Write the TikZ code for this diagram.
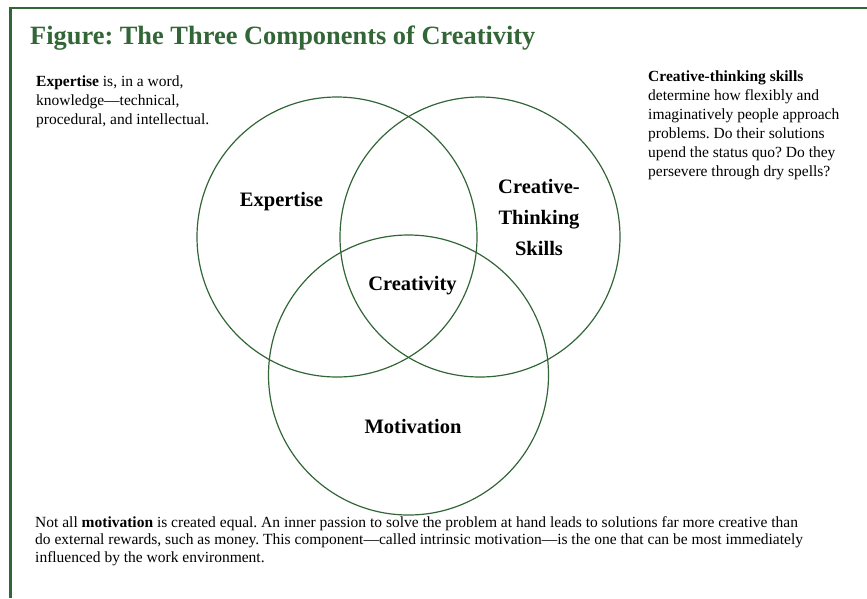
\documentclass[tikz,border=0pt]{standalone}
\usepackage{fontspec}
\setmainfont[Ligatures=TeX]{Liberation Serif}
\definecolor{figGreen}{RGB}{50,102,54}
\frenchspacing

\newcommand{\frameLineWidth}{2.5}
\newcommand{\circleLineWidth}{1.2}
\newcommand{\circleRadius}{140}
\newcommand{\expertiseX}{337}
\newcommand{\expertiseY}{237}
\newcommand{\skillsX}{480}
\newcommand{\skillsY}{237}
\newcommand{\motivationX}{408.5}
\newcommand{\motivationY}{375}

\tikzset{
    circlelabel/.style={font=\fontsize{20.5}{31}\selectfont\bfseries, align=center, inner sep=0pt},
    notetext/.style={font=\fontsize{15.5}{19}\selectfont, align=left, anchor=north west, inner sep=0pt},
    venncircle/.style={draw=figGreen, line width=\circleLineWidth}
}

\begin{document}
\begin{tikzpicture}[x=1pt, y=-1pt]
        \useasboundingbox (0,0) rectangle (867,598);

        % Frame
        \draw [line width=\frameLineWidth, figGreen] (10.5,598) |- (867,8);

        % Title
        \node[anchor=base west, inner sep=0pt, text=figGreen, font=\fontsize{26.4}{30}\selectfont\bfseries] (title) at (30,44) {Figure: The Three Components of Creativity};

        % Draw the three circles
        \draw [venncircle] (\expertiseX,\expertiseY) circle [radius=\circleRadius pt];
        \draw [venncircle] (\skillsX,\skillsY) circle [radius=\circleRadius pt];
        \draw [venncircle] (\motivationX,\motivationY) circle [radius=\circleRadius pt];

        % Circle labels
        \node[circlelabel] (expertise) at (281.5,202) {Expertise};
        \node[circlelabel] (skills) at (539,217) {Creative-\\Thinking\\Skills};
        \node[circlelabel] (creativity) at (412.5,286) {Creativity};
        \node[circlelabel] (motivation) at (413,426) {Motivation};

        % Notes
        \node[notetext] (expertiseNote) at (36,76) {\textbf{Expertise} is, in a word,\\knowledge—technical,\\procedural, and intellectual.};
        \node[notetext] (skillsNote) at (648,71) {\textbf{Creative-thinking skills}\\determine how flexibly and\\imaginatively people approach\\problems. Do their solutions\\upend the status quo? Do they\\persevere through dry spells?};
        \node[notetext, font=\fontsize{15.5}{17.8}\selectfont] (motivationNote) at (35,516) {Not all \textbf{motivation} is created equal. An inner passion to solve the problem at hand leads to solutions far more creative than\\do external rewards, such as money. This component—called intrinsic motivation—is the one that can be most immediately\\influenced by the work environment.};
\end{tikzpicture}
\end{document}
